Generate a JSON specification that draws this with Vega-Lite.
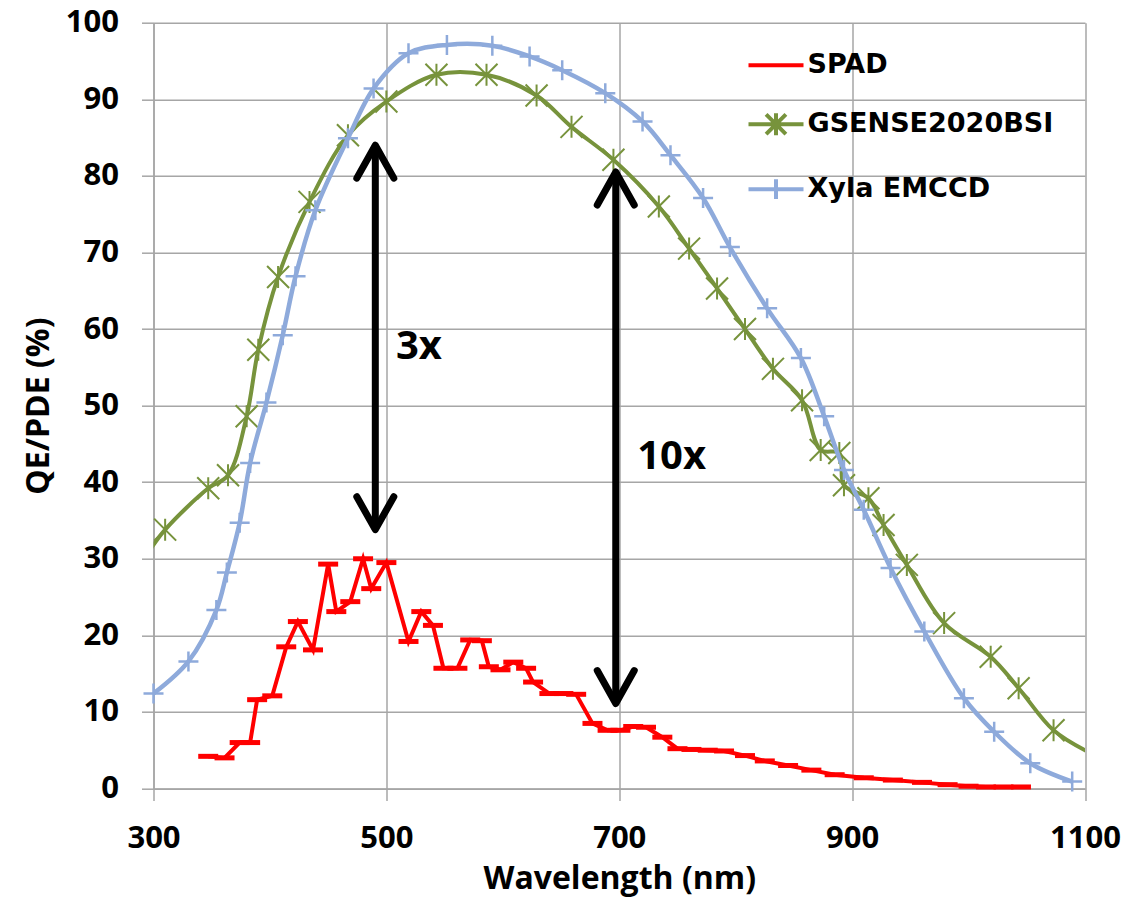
{
  "$schema": "https://vega.github.io/schema/vega-lite/v6.json",
  "autosize": "none",
  "width": 931.5,
  "height": 765.8,
  "padding": {"left": 153.5, "top": 22.7, "right": 43.5, "bottom": 111.5},
  "background": "white",
  "config": {
    "view": {"stroke": null},
    "axis": {
      "gridColor": "#a6a6a6", "gridWidth": 1.5, "gridOpacity": 1,
      "domainColor": "#a6a6a6", "domainWidth": 1.5,
      "tickColor": "#a6a6a6", "tickWidth": 1.5, "tickSize": 12,
      "labelFont": "Open Sans", "labelFontWeight": "bold", "labelFontSize": 31, "labelColor": "black", "labelPadding": 23,
      "labelFlush": false, "labelOverlap": false,
      "titleFont": "Open Sans", "titleFontWeight": "bold", "titleFontSize": 32, "titleColor": "black"
    }
  },
  "datasets": {
    "curves": [
      {"series": "SPAD", "nm": 347, "value": 4.2}, {"series": "SPAD", "nm": 361, "value": 4.0},
      {"series": "SPAD", "nm": 374, "value": 6.0}, {"series": "SPAD", "nm": 383, "value": 6.0},
      {"series": "SPAD", "nm": 389, "value": 11.6}, {"series": "SPAD", "nm": 402, "value": 12.1},
      {"series": "SPAD", "nm": 414, "value": 18.5}, {"series": "SPAD", "nm": 424, "value": 21.8},
      {"series": "SPAD", "nm": 437, "value": 18.1}, {"series": "SPAD", "nm": 450, "value": 29.3},
      {"series": "SPAD", "nm": 457, "value": 23.1}, {"series": "SPAD", "nm": 469, "value": 24.4},
      {"series": "SPAD", "nm": 480, "value": 30.0}, {"series": "SPAD", "nm": 487, "value": 26.1},
      {"series": "SPAD", "nm": 500, "value": 29.5}, {"series": "SPAD", "nm": 519, "value": 19.2},
      {"series": "SPAD", "nm": 530, "value": 23.1}, {"series": "SPAD", "nm": 540, "value": 21.3},
      {"series": "SPAD", "nm": 549, "value": 15.7}, {"series": "SPAD", "nm": 561, "value": 15.7},
      {"series": "SPAD", "nm": 572, "value": 19.4}, {"series": "SPAD", "nm": 582, "value": 19.3},
      {"series": "SPAD", "nm": 588, "value": 15.9}, {"series": "SPAD", "nm": 598, "value": 15.5},
      {"series": "SPAD", "nm": 609, "value": 16.5}, {"series": "SPAD", "nm": 620, "value": 15.7},
      {"series": "SPAD", "nm": 626, "value": 13.9}, {"series": "SPAD", "nm": 640, "value": 12.4},
      {"series": "SPAD", "nm": 652, "value": 12.4}, {"series": "SPAD", "nm": 663, "value": 12.3},
      {"series": "SPAD", "nm": 677, "value": 8.5}, {"series": "SPAD", "nm": 690, "value": 7.6},
      {"series": "SPAD", "nm": 701, "value": 7.6}, {"series": "SPAD", "nm": 712, "value": 8.1},
      {"series": "SPAD", "nm": 723, "value": 8.0}, {"series": "SPAD", "nm": 737, "value": 6.7},
      {"series": "SPAD", "nm": 750, "value": 5.2}, {"series": "SPAD", "nm": 762, "value": 5.1},
      {"series": "SPAD", "nm": 776, "value": 5.0}, {"series": "SPAD", "nm": 790, "value": 4.9},
      {"series": "SPAD", "nm": 808, "value": 4.3}, {"series": "SPAD", "nm": 825, "value": 3.6},
      {"series": "SPAD", "nm": 845, "value": 3.0}, {"series": "SPAD", "nm": 865, "value": 2.4},
      {"series": "SPAD", "nm": 885, "value": 1.8}, {"series": "SPAD", "nm": 910, "value": 1.4},
      {"series": "SPAD", "nm": 935, "value": 1.1}, {"series": "SPAD", "nm": 960, "value": 0.8},
      {"series": "SPAD", "nm": 982, "value": 0.5}, {"series": "SPAD", "nm": 1000, "value": 0.3},
      {"series": "SPAD", "nm": 1015, "value": 0.2}, {"series": "SPAD", "nm": 1030, "value": 0.2},
      {"series": "SPAD", "nm": 1045, "value": 0.2},
      {"series": "GSENSE2020BSI", "nm": 295, "value": 30.7}, {"series": "GSENSE2020BSI", "nm": 310, "value": 33.8},
      {"series": "GSENSE2020BSI", "nm": 347, "value": 39.2}, {"series": "GSENSE2020BSI", "nm": 364, "value": 40.9},
      {"series": "GSENSE2020BSI", "nm": 380, "value": 48.6}, {"series": "GSENSE2020BSI", "nm": 390, "value": 57.3},
      {"series": "GSENSE2020BSI", "nm": 407, "value": 66.8}, {"series": "GSENSE2020BSI", "nm": 434, "value": 76.6},
      {"series": "GSENSE2020BSI", "nm": 467, "value": 85.3}, {"series": "GSENSE2020BSI", "nm": 500, "value": 89.7},
      {"series": "GSENSE2020BSI", "nm": 543, "value": 93.2}, {"series": "GSENSE2020BSI", "nm": 586, "value": 93.2},
      {"series": "GSENSE2020BSI", "nm": 629, "value": 90.5}, {"series": "GSENSE2020BSI", "nm": 659, "value": 86.4},
      {"series": "GSENSE2020BSI", "nm": 695, "value": 82.1}, {"series": "GSENSE2020BSI", "nm": 734, "value": 76.0},
      {"series": "GSENSE2020BSI", "nm": 760, "value": 70.5}, {"series": "GSENSE2020BSI", "nm": 784, "value": 65.3},
      {"series": "GSENSE2020BSI", "nm": 808, "value": 60.0}, {"series": "GSENSE2020BSI", "nm": 832, "value": 54.8},
      {"series": "GSENSE2020BSI", "nm": 857, "value": 50.7}, {"series": "GSENSE2020BSI", "nm": 873, "value": 44.2},
      {"series": "GSENSE2020BSI", "nm": 889, "value": 43.8}, {"series": "GSENSE2020BSI", "nm": 893, "value": 39.6},
      {"series": "GSENSE2020BSI", "nm": 914, "value": 37.9}, {"series": "GSENSE2020BSI", "nm": 927, "value": 34.4},
      {"series": "GSENSE2020BSI", "nm": 947, "value": 29.2}, {"series": "GSENSE2020BSI", "nm": 979, "value": 21.6},
      {"series": "GSENSE2020BSI", "nm": 1019, "value": 17.2}, {"series": "GSENSE2020BSI", "nm": 1043, "value": 13.1},
      {"series": "GSENSE2020BSI", "nm": 1073, "value": 7.6}, {"series": "GSENSE2020BSI", "nm": 1105, "value": 4.6},
      {"series": "Xyla EMCCD", "nm": 300, "value": 12.4}, {"series": "Xyla EMCCD", "nm": 330, "value": 16.6},
      {"series": "Xyla EMCCD", "nm": 354, "value": 23.3}, {"series": "Xyla EMCCD", "nm": 363, "value": 28.2},
      {"series": "Xyla EMCCD", "nm": 374, "value": 34.7}, {"series": "Xyla EMCCD", "nm": 383, "value": 42.5},
      {"series": "Xyla EMCCD", "nm": 397, "value": 50.4}, {"series": "Xyla EMCCD", "nm": 411, "value": 59.2},
      {"series": "Xyla EMCCD", "nm": 422, "value": 66.9}, {"series": "Xyla EMCCD", "nm": 439, "value": 75.5},
      {"series": "Xyla EMCCD", "nm": 467, "value": 84.9}, {"series": "Xyla EMCCD", "nm": 489, "value": 91.4},
      {"series": "Xyla EMCCD", "nm": 519, "value": 96.0}, {"series": "Xyla EMCCD", "nm": 552, "value": 97.1},
      {"series": "Xyla EMCCD", "nm": 591, "value": 97.0}, {"series": "Xyla EMCCD", "nm": 623, "value": 95.6},
      {"series": "Xyla EMCCD", "nm": 651, "value": 93.8}, {"series": "Xyla EMCCD", "nm": 688, "value": 90.8},
      {"series": "Xyla EMCCD", "nm": 720, "value": 87.1}, {"series": "Xyla EMCCD", "nm": 744, "value": 82.7},
      {"series": "Xyla EMCCD", "nm": 772, "value": 77.1}, {"series": "Xyla EMCCD", "nm": 795, "value": 70.7},
      {"series": "Xyla EMCCD", "nm": 827, "value": 62.7}, {"series": "Xyla EMCCD", "nm": 856, "value": 56.2},
      {"series": "Xyla EMCCD", "nm": 876, "value": 48.6}, {"series": "Xyla EMCCD", "nm": 893, "value": 41.6},
      {"series": "Xyla EMCCD", "nm": 910, "value": 36.4}, {"series": "Xyla EMCCD", "nm": 933, "value": 28.8},
      {"series": "Xyla EMCCD", "nm": 962, "value": 20.5}, {"series": "Xyla EMCCD", "nm": 996, "value": 11.8},
      {"series": "Xyla EMCCD", "nm": 1022, "value": 7.4}, {"series": "Xyla EMCCD", "nm": 1053, "value": 3.3},
      {"series": "Xyla EMCCD", "nm": 1089, "value": 0.9}
    ],
    "arrows": [
      {"label": "3x", "nm": 490.5, "value": 84.0, "bottom": 33.8},
      {"label": "10x", "nm": 697, "value": 80.5, "bottom": 11.1}
    ],
    "heads": [
      {"dir": "up", "nm": 490.5, "value": 84.0},
      {"dir": "down", "nm": 490.5, "value": 33.8},
      {"dir": "up", "nm": 697, "value": 80.5},
      {"dir": "down", "nm": 697, "value": 11.1}
    ],
    "notes": [
      {"label": "3x", "nm": 528, "value": 57.6},
      {"label": "10x", "nm": 745, "value": 43.3}
    ]
  },
  "encoding": {
    "x": {
      "field": "nm", "type": "quantitative",
      "scale": {"domain": [300, 1100], "nice": false, "zero": false},
      "axis": {"title": "Wavelength (nm)", "values": [300, 500, 700, 900, 1100], "format": "d", "titlePadding": 10}
    },
    "y": {
      "field": "value", "type": "quantitative",
      "scale": {"domain": [0, 100], "nice": false},
      "axis": {"title": "QE/PDE (%)", "values": [0, 10, 20, 30, 40, 50, 60, 70, 80, 90, 100], "format": "d", "titlePadding": 10}
    }
  },
  "layer": [
    {
      "data": {"name": "curves"},
      "transform": [{"filter": "datum.series === 'SPAD'"}],
      "mark": {"type": "line", "strokeWidth": 4, "interpolate": "linear", "clip": true},
      "encoding": {
        "color": {
          "field": "series", "type": "nominal",
          "scale": {"domain": ["SPAD", "GSENSE2020BSI", "Xyla EMCCD"], "range": ["#ff0000", "#77933c", "#8eaadb"]},
          "legend": {
            "title": null, "orient": "none", "legendX": 593, "legendY": 13, "padding": 0,
            "symbolSize": 3025, "symbolStrokeWidth": 4, "symbolFillColor": "transparent",
            "labelFont": "DejaVu Sans", "labelFontWeight": "bold", "labelFontSize": 27, "labelColor": "black",
            "labelOffset": 2, "labelLimit": 400, "rowPadding": 16,
            "encode": {
              "symbols": {
                "update": {
                  "shape": {"signal": "datum.value === 'SPAD' ? 'M-1,0L1,0' : datum.value === 'GSENSE2020BSI' ? 'M-1,0L1,0M-0.36,-0.36L0.36,0.36M-0.36,0.36L0.36,-0.36M0,-0.4L0,0.4' : 'M-1,0L1,0M0,-0.36L0,0.36'"},
                  "fill": {"value": "transparent"}
                }
              }
            }
          }
        }
      }
    },
    {
      "data": {"name": "curves"},
      "transform": [{"filter": "datum.series === 'SPAD'"}],
      "mark": {"type": "point", "shape": "M-1,0L1,0", "size": 400, "filled": false, "strokeWidth": 5, "opacity": 1},
      "encoding": {"color": {"field": "series", "type": "nominal"}}
    },
    {
      "data": {"name": "curves"},
      "transform": [{"filter": "datum.series === 'GSENSE2020BSI'"}],
      "mark": {"type": "line", "strokeWidth": 4, "interpolate": "catmull-rom", "clip": true},
      "encoding": {"color": {"field": "series", "type": "nominal"}}
    },
    {
      "data": {"name": "curves"},
      "transform": [{"filter": "datum.series === 'GSENSE2020BSI' && datum.nm >= 300 && datum.nm <= 1100"}],
      "mark": {"type": "point", "shape": "M-1,-1L1,1M-1,1L1,-1M0,-1L0,1", "size": 484, "filled": false, "strokeWidth": 2, "opacity": 1},
      "encoding": {"color": {"field": "series", "type": "nominal"}}
    },
    {
      "data": {"name": "curves"},
      "transform": [{"filter": "datum.series === 'Xyla EMCCD'"}],
      "mark": {"type": "line", "strokeWidth": 4.5, "interpolate": "catmull-rom", "clip": true},
      "encoding": {"color": {"field": "series", "type": "nominal"}}
    },
    {
      "data": {"name": "curves"},
      "transform": [{"filter": "datum.series === 'Xyla EMCCD'"}],
      "mark": {"type": "point", "shape": "M-1,0L1,0M0,-1L0,1", "size": 400, "filled": false, "strokeWidth": 2.5, "opacity": 1},
      "encoding": {"color": {"field": "series", "type": "nominal"}}
    },
    {
      "data": {"name": "arrows"},
      "mark": {"type": "rule", "color": "black", "strokeWidth": 7},
      "encoding": {"y2": {"field": "bottom"}}
    },
    {
      "data": {"name": "heads"},
      "transform": [{"filter": "datum.dir === 'up'"}],
      "mark": {"type": "point", "shape": "M-1,1.78L0,0L1,1.78", "size": 1369, "filled": false, "stroke": "black", "strokeWidth": 7, "strokeCap": "round", "strokeJoin": "round", "opacity": 1},
      "encoding": {}
    },
    {
      "data": {"name": "heads"},
      "transform": [{"filter": "datum.dir === 'down'"}],
      "mark": {"type": "point", "shape": "M-1,-1.78L0,0L1,-1.78", "size": 1369, "filled": false, "stroke": "black", "strokeWidth": 7, "strokeCap": "round", "strokeJoin": "round", "opacity": 1},
      "encoding": {}
    },
    {
      "data": {"name": "notes"},
      "mark": {"type": "text", "font": "Open Sans", "fontWeight": "bold", "fontSize": 40, "color": "black", "align": "center", "baseline": "middle"},
      "encoding": {"text": {"field": "label"}}
    }
  ]
}
